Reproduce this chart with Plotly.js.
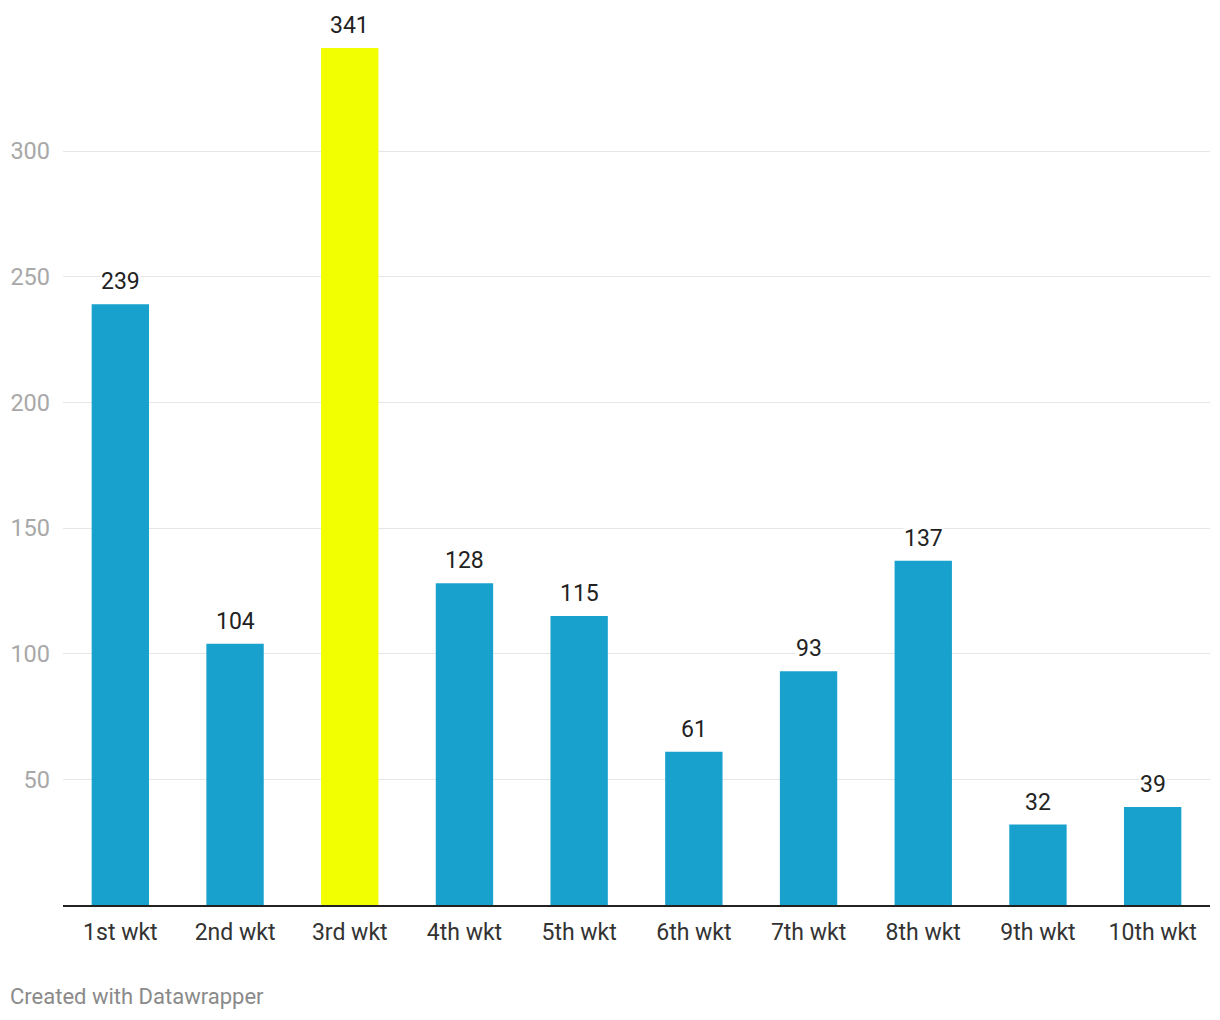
<!DOCTYPE html>
<html><head><meta charset="utf-8">
<script src="https://cdn.plot.ly/plotly-3.0.1.min.js"></script>
<style>body{margin:0;background:#fff}#c{width:1220px;height:1020px}</style>
</head><body><div id="c"></div>
<script>
const categories = ["1st wkt","2nd wkt","3rd wkt","4th wkt","5th wkt","6th wkt","7th wkt","8th wkt","9th wkt","10th wkt"];
const runs = [239,104,341,128,115,61,93,137,32,39];
const highlight = "3rd wkt";
const yTicks = [50,100,150,200,250,300];

const colors = categories.map(c => c === highlight ? "#f2ff00" : "#18a1cd");
const annotations = categories.map((c,i) => ({
  x: c, y: runs[i], xref: "x", yref: "y", text: String(runs[i]),
  showarrow: false, yanchor: "bottom", yshift: 8, bgcolor: "#ffffff",
  font: {family: "Roboto", size: 23, color: "#222"}, borderpad: 0
}));
annotations.push({
  xref: "paper", yref: "paper", x: (8-63)/1147, y: -92/857, xanchor: "left", yanchor: "middle",
  text: "Created with Datawrapper", showarrow: false,
  font: {family: "Roboto", size: 22, color: "#8a8a8a"}
});

Plotly.newPlot("c", [{
  type: "bar", x: categories, y: runs, marker: {color: colors}, hoverinfo: "none"
}], {
  width: 1220, height: 1020,
  margin: {l: 63, r: 10, t: 48, b: 115},
  bargap: 0.5,
  paper_bgcolor: "#fff", plot_bgcolor: "#fff",
  font: {family: "Roboto"},
  xaxis: {
    showline: true, linecolor: "#222", linewidth: 2, ticks: "", showgrid: false,
    tickfont: {family: "Roboto", size: 23, color: "#333"}, ticklabelstandoff: 5
  },
  yaxis: {
    range: [0, 341], tickvals: yTicks, showgrid: true, gridcolor: "#e6e6e6", gridwidth: 1,
    zeroline: false, ticks: "", ticklabelstandoff: 12,
    tickfont: {family: "Roboto", size: 23.5, color: "#a8a8a8"}
  },
  annotations: annotations,
  showlegend: false
}, {displayModeBar: false, staticPlot: true});
</script></body></html>
